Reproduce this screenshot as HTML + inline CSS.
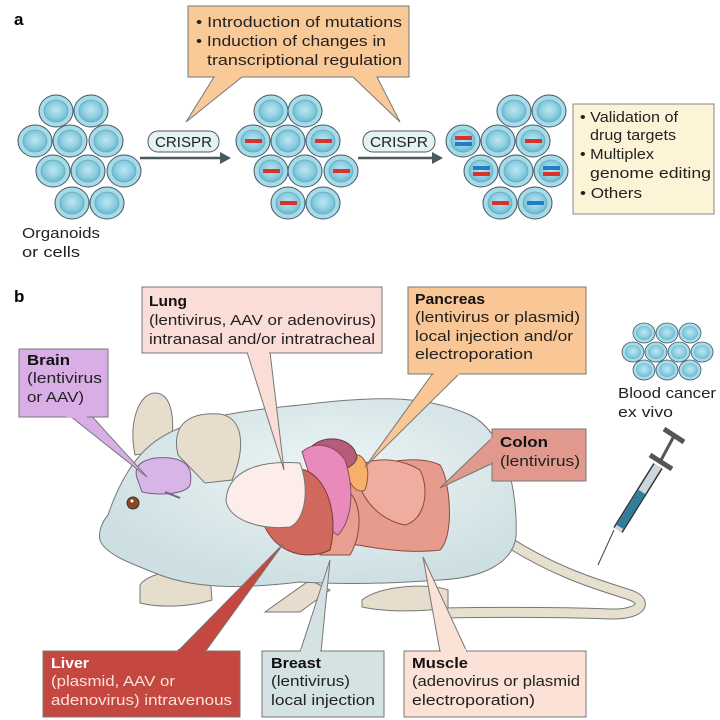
<!DOCTYPE html>
<html><head><meta charset="utf-8"><style>
html,body{margin:0;padding:0;background:#fff;}
svg{display:block;font-family:"Liberation Sans",sans-serif;}
.t{font-size:15px;fill:#222;}
.b{font-size:15px;fill:#111;font-weight:bold;}
</style></head><body>
<svg width="720" height="720" viewBox="0 0 720 720" xmlns="http://www.w3.org/2000/svg">
<defs>
<radialGradient id="cell" cx="50%" cy="45%" r="55%">
<stop offset="0" stop-color="#bfe6f0"/><stop offset="0.6" stop-color="#8fd0e2"/><stop offset="1" stop-color="#6bb8cf"/>
</radialGradient>
<g id="c"><ellipse rx="17" ry="16" fill="#a6dbe8" stroke="#456" stroke-width="1"/><ellipse rx="12" ry="11" fill="url(#cell)" stroke="#6aa9bd" stroke-width="0.8"/></g>
<g id="s"><ellipse rx="11" ry="10" fill="#a6dbe8" stroke="#456" stroke-width="0.8"/><ellipse rx="8" ry="7" fill="url(#cell)"/></g>
<radialGradient id="body" cx="55%" cy="40%" r="60%"><stop offset="0" stop-color="#eef5f6"/><stop offset="1" stop-color="#cddfe2"/></radialGradient>
</defs>

<!-- Panel a -->
<text x="14" y="25" style="font-size:17px;font-weight:bold">a</text>
<path d="M188,6 H409 V77 H377 L400,122 L353,77 H242 L186,122 L214,77 H188 Z" fill="#f9c998" stroke="#777"/>
<text class="t" x="196" y="27" textLength="206" lengthAdjust="spacingAndGlyphs">• Introduction of mutations</text>
<text class="t" x="196" y="46" textLength="190" lengthAdjust="spacingAndGlyphs">• Induction of changes in</text>
<text class="t" x="207" y="65" textLength="195" lengthAdjust="spacingAndGlyphs">transcriptional regulation</text>

<g>
<use href="#c" x="56" y="111"/><use href="#c" x="91" y="111"/>
<use href="#c" x="35" y="141"/><use href="#c" x="70" y="141"/><use href="#c" x="106" y="141"/>
<use href="#c" x="53" y="171"/><use href="#c" x="88" y="171"/><use href="#c" x="124" y="171"/>
<use href="#c" x="72" y="203"/><use href="#c" x="107" y="203"/>
</g>
<g>
<use href="#c" x="271" y="111"/><use href="#c" x="305" y="111"/>
<use href="#c" x="253" y="141"/><use href="#c" x="288" y="141"/><use href="#c" x="323" y="141"/>
<use href="#c" x="271" y="171"/><use href="#c" x="305" y="171"/><use href="#c" x="341" y="171"/>
<use href="#c" x="288" y="203"/><use href="#c" x="323" y="203"/>
<g fill="#d8322a"><rect x="245" y="139" width="17" height="4"/><rect x="315" y="139" width="17" height="4"/><rect x="263" y="169" width="17" height="4"/><rect x="333" y="169" width="17" height="4"/><rect x="280" y="201" width="17" height="4"/></g>
</g>
<g>
<use href="#c" x="514" y="111"/><use href="#c" x="549" y="111"/>
<use href="#c" x="463" y="141"/><use href="#c" x="498" y="141"/><use href="#c" x="533" y="141"/>
<use href="#c" x="481" y="171"/><use href="#c" x="516" y="171"/><use href="#c" x="551" y="171"/>
<use href="#c" x="500" y="203"/><use href="#c" x="535" y="203"/>
<g fill="#d8322a"><rect x="455" y="136" width="17" height="4"/><rect x="525" y="139" width="17" height="4"/><rect x="473" y="172" width="17" height="4"/><rect x="543" y="172" width="17" height="4"/><rect x="492" y="201" width="17" height="4"/></g>
<g fill="#1f7fc4"><rect x="455" y="142" width="17" height="4"/><rect x="473" y="166" width="17" height="4"/><rect x="543" y="166" width="17" height="4"/><rect x="527" y="201" width="17" height="4"/></g>
</g>
<text class="t" x="22" y="238" textLength="78" lengthAdjust="spacingAndGlyphs">Organoids</text>
<text class="t" x="22" y="257" textLength="58" lengthAdjust="spacingAndGlyphs">or cells</text>

<rect x="148" y="131" width="71" height="21" rx="10" fill="#e3f2f5" stroke="#555"/>
<text class="t" x="155" y="147" textLength="57" lengthAdjust="spacingAndGlyphs">CRISPR</text>
<rect x="363" y="131" width="72" height="21" rx="10" fill="#e3f2f5" stroke="#555"/>
<text class="t" x="370" y="147" textLength="58" lengthAdjust="spacingAndGlyphs">CRISPR</text>
<line x1="140" y1="158" x2="222" y2="158" stroke="#4a5860" stroke-width="2.5"/>
<polygon points="231,158 220,152 220,164" fill="#4a5860"/>
<line x1="358" y1="158" x2="434" y2="158" stroke="#4a5860" stroke-width="2.5"/>
<polygon points="443,158 432,152 432,164" fill="#4a5860"/>
<rect x="573" y="104" width="141" height="110" fill="#fdf3d6" stroke="#888"/>
<text class="t" x="580" y="122" textLength="98" lengthAdjust="spacingAndGlyphs">• Validation of</text>
<text class="t" x="590" y="140" textLength="86" lengthAdjust="spacingAndGlyphs">drug targets</text>
<text class="t" x="580" y="159" textLength="74" lengthAdjust="spacingAndGlyphs">• Multiplex</text>
<text class="t" x="590" y="178" textLength="121" lengthAdjust="spacingAndGlyphs">genome editing</text>
<text class="t" x="580" y="198" textLength="62" lengthAdjust="spacingAndGlyphs">• Others</text>

<!-- Panel b -->
<text x="14" y="302" style="font-size:17px;font-weight:bold">b</text>

<!-- tail -->
<path d="M505,540 C560,575 600,585 630,595 C650,602 640,615 610,614 C560,612 500,612 440,613" fill="none" stroke="#777" stroke-width="11" stroke-linecap="round"/>
<path d="M505,540 C560,575 600,585 630,595 C650,602 640,615 610,614 C560,612 500,612 440,613" fill="none" stroke="#e8e0cf" stroke-width="9" stroke-linecap="round"/>
<!-- paws -->
<path d="M140,585 C150,570 190,568 210,575 L212,600 C190,607 160,608 140,603 Z" fill="#e6ddcc" stroke="#777"/>
<path d="M362,600 C380,585 430,583 448,590 L448,608 C420,612 385,612 362,607 Z" fill="#e6ddcc" stroke="#777"/>
<path d="M310,580 L330,590 300,612 265,612 Z" fill="#e6ddcc" stroke="#777"/>
<!-- ears -->
<path d="M135,455 C128,420 140,393 155,393 C172,393 176,420 170,450 Z" fill="#e6ddcc" stroke="#777"/>
<!-- body -->
<path d="M100,540 C98,532 102,522 108,515 C118,485 130,465 145,450 C175,420 230,412 300,405 C360,398 420,392 470,415 C505,432 518,490 516,537 C512,565 480,578 440,580 C400,583 350,585 300,582 C250,588 200,590 160,575 C135,565 105,555 100,540 Z" fill="url(#body)" stroke="#777"/>
<path d="M178,455 C170,420 195,412 220,414 C245,418 245,450 232,480 L205,483 Z" fill="#e6ddcc" stroke="#777"/>
<!-- brain -->
<path d="M137,478 C132,462 150,456 170,458 C188,460 193,470 190,485 C186,494 160,496 142,492 Z" fill="#d7b5e6" stroke="#7a5a8a"/>
<path d="M165,492 L180,498" stroke="#7a5a8a" stroke-width="2"/>
<circle cx="133" cy="503" r="6" fill="#8a4a20" stroke="#333"/><circle cx="132" cy="501" r="1.5" fill="#fff"/>
<!-- organs -->
<path d="M330,540 C360,545 400,555 440,550 C455,535 450,480 440,465 C420,455 380,460 350,475 C330,500 325,525 330,540 Z" fill="#e79b8c" stroke="#8a4a42"/>
<path d="M355,470 C370,455 400,458 420,470 C430,490 425,520 405,525 C380,520 360,500 355,470 Z" fill="#f0ad9f" stroke="#8a4a42"/>
<path d="M320,555 C318,530 330,500 345,490 C360,495 365,530 350,555 Z" fill="#e89e90" stroke="#8a4a42"/>
<path d="M353,455 C365,452 372,470 365,490 C355,495 346,480 347,465 Z" fill="#f6b06a" stroke="#8a5a32"/>
<path d="M310,448 C325,432 355,438 357,458 C352,472 330,473 315,470 Z" fill="#b55c78" stroke="#6a3a44"/>
<path d="M302,452 C315,440 335,445 345,460 C355,490 352,520 338,535 C325,530 318,500 302,452 Z" fill="#e88abb" stroke="#8a4a62"/>
<path d="M262,520 C255,490 280,465 305,470 C330,480 338,520 330,550 C310,560 275,557 262,520 Z" fill="#d1685e" stroke="#7a3a32"/>
<path d="M226,500 C228,470 260,460 300,463 C310,490 305,520 290,527 C260,530 228,520 226,500 Z" fill="#fcecea" stroke="#777"/>

<!-- blood cancer cells -->
<use href="#s" x="644" y="333"/><use href="#s" x="667" y="333"/><use href="#s" x="690" y="333"/>
<use href="#s" x="633" y="352"/><use href="#s" x="656" y="352"/><use href="#s" x="679" y="352"/><use href="#s" x="702" y="352"/>
<use href="#s" x="644" y="370"/><use href="#s" x="667" y="370"/><use href="#s" x="690" y="370"/>
<text class="t" x="618" y="398" textLength="98" lengthAdjust="spacingAndGlyphs">Blood cancer</text>
<text class="t" x="618" y="417" textLength="55" lengthAdjust="spacingAndGlyphs">ex vivo</text>
<!-- syringe -->
<line x1="614" y1="530" x2="598" y2="565" stroke="#444" stroke-width="1"/>
<line x1="674" y1="436" x2="660" y2="462" stroke="#555" stroke-width="3"/>
<line x1="664" y1="429" x2="684" y2="442" stroke="#555" stroke-width="5"/>
<line x1="650" y1="455" x2="672" y2="469" stroke="#555" stroke-width="5"/>
<line x1="658" y1="466" x2="618" y2="530" stroke="#333" stroke-width="11"/>
<line x1="658" y1="466" x2="618" y2="530" stroke="#ccd6dc" stroke-width="8"/>
<line x1="642" y1="492" x2="620" y2="527" stroke="#2f7f9a" stroke-width="8"/>

<!-- pointers -->
<polygon points="65,412 147,477 88,412" fill="#d9aee6" stroke="#777"/>
<polygon points="247,352 284,470 270,352" fill="#f9ddd6" stroke="#777"/>
<polygon points="433,373 365,467 460,373" fill="#f9c796" stroke="#777"/>
<polygon points="493,437 440,488 493,463" fill="#e0998c" stroke="#777"/>
<polygon points="177,652 284,543 205,652" fill="#c4483f" stroke="#777"/>
<polygon points="300,652 330,560 321,652" fill="#d4e2e4" stroke="#777"/>
<polygon points="440,652 423,557 467,652" fill="#fbe1d6" stroke="#777"/>

<!-- boxes -->
<rect x="19" y="349" width="89" height="68" fill="#d9aee6" stroke="#777"/>
<rect x="66" y="414" width="21" height="4" fill="#d9aee6"/>
<text class="b" x="27" y="365" textLength="43" lengthAdjust="spacingAndGlyphs">Brain</text>
<text class="t" x="27" y="383" textLength="75" lengthAdjust="spacingAndGlyphs">(lentivirus</text>
<text class="t" x="27" y="402" textLength="57" lengthAdjust="spacingAndGlyphs">or AAV)</text>

<rect x="142" y="287" width="240" height="66" fill="#f9ddd6" stroke="#777"/>
<rect x="248" y="350" width="21" height="4" fill="#f9ddd6"/>
<text class="b" x="149" y="306" textLength="38" lengthAdjust="spacingAndGlyphs">Lung</text>
<text class="t" x="149" y="325" textLength="227" lengthAdjust="spacingAndGlyphs">(lentivirus, AAV or adenovirus)</text>
<text class="t" x="149" y="344" textLength="226" lengthAdjust="spacingAndGlyphs">intranasal and/or intratracheal</text>

<rect x="408" y="287" width="178" height="87" fill="#f9c796" stroke="#777"/>
<rect x="434" y="371" width="25" height="4" fill="#f9c796"/>
<text class="b" x="415" y="304" textLength="70" lengthAdjust="spacingAndGlyphs">Pancreas</text>
<text class="t" x="415" y="322" textLength="165" lengthAdjust="spacingAndGlyphs">(lentivirus or plasmid)</text>
<text class="t" x="415" y="341" textLength="158" lengthAdjust="spacingAndGlyphs">local injection and/or</text>
<text class="t" x="415" y="359" textLength="118" lengthAdjust="spacingAndGlyphs">electroporation</text>

<rect x="492" y="429" width="94" height="52" fill="#e0998c" stroke="#777"/>
<rect x="490" y="438" width="4" height="24" fill="#e0998c"/>
<text class="b" x="500" y="447" textLength="48" lengthAdjust="spacingAndGlyphs">Colon</text>
<text class="t" x="500" y="466" textLength="80" lengthAdjust="spacingAndGlyphs">(lentivirus)</text>

<rect x="43" y="651" width="197" height="66" fill="#c4483f" stroke="#777"/>
<rect x="178" y="649" width="26" height="4" fill="#c4483f"/>
<text x="51" y="668" style="font-size:15px;font-weight:bold;fill:#fff" textLength="38" lengthAdjust="spacingAndGlyphs">Liver</text>
<text x="51" y="686" style="font-size:15px;fill:#fbe0dc" textLength="124" lengthAdjust="spacingAndGlyphs">(plasmid, AAV or</text>
<text x="51" y="705" style="font-size:15px;fill:#fbe0dc" textLength="181" lengthAdjust="spacingAndGlyphs">adenovirus) intravenous</text>

<rect x="262" y="651" width="122" height="66" fill="#d4e2e4" stroke="#777"/>
<rect x="301" y="649" width="19" height="4" fill="#d4e2e4"/>
<text class="b" x="271" y="668" textLength="50" lengthAdjust="spacingAndGlyphs">Breast</text>
<text class="t" x="271" y="686" textLength="79" lengthAdjust="spacingAndGlyphs">(lentivirus)</text>
<text class="t" x="271" y="705" textLength="104" lengthAdjust="spacingAndGlyphs">local injection</text>

<rect x="404" y="651" width="182" height="66" fill="#fbe1d6" stroke="#777"/>
<rect x="441" y="649" width="25" height="4" fill="#fbe1d6"/>
<text class="b" x="412" y="668" textLength="56" lengthAdjust="spacingAndGlyphs">Muscle</text>
<text class="t" x="412" y="686" textLength="168" lengthAdjust="spacingAndGlyphs">(adenovirus or plasmid</text>
<text class="t" x="412" y="705" textLength="123" lengthAdjust="spacingAndGlyphs">electroporation)</text>
</svg>
</body></html>
